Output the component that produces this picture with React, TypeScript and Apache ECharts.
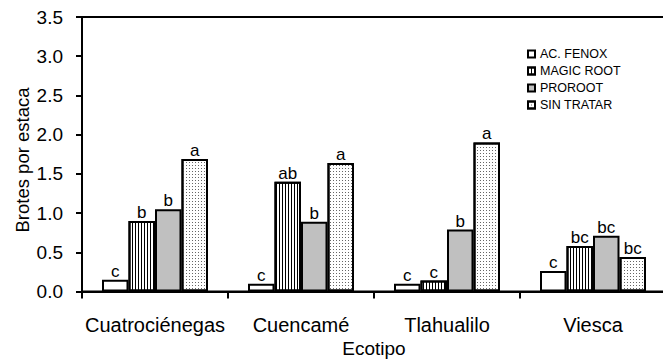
import React, { useEffect, useRef } from "react";
import * as echarts from "echarts";

const categories = ["Cuatrociénegas", "Cuencamé", "Tlahualilo", "Viesca"];
const seriesNames = ["AC. FENOX", "MAGIC ROOT", "PROROOT", "SIN TRATAR"];
const acFenox = [0.15, 0.1, 0.1, 0.26];
const magicRoot = [0.9, 1.4, 0.14, 0.58];
const proroot = [1.05, 0.89, 0.79, 0.71];
const sinTratar = [1.69, 1.64, 1.9, 0.44];
const letters = [
  ["c", "c", "c", "c"],
  ["b", "ab", "c", "bc"],
  ["b", "b", "b", "bc"],
  ["a", "a", "a", "bc"],
];
const yTicks = [0, 0.5, 1, 1.5, 2, 2.5, 3, 3.5];

const FONT = "'Liberation Sans', Arial, sans-serif";

export default function App() {
  const ref = useRef<HTMLDivElement>(null);
  useEffect(() => {
    if (!ref.current) return;
    document.body.style.margin = "0";
    const chart = echarts.init(ref.current, undefined, { renderer: "svg" });
    const values = [acFenox, magicRoot, proroot, sinTratar];
    const styles: any[] = [
      { color: "#ffffff" },
      {
        color: "#ffffff",
        decal: {
          symbol: "rect",
          symbolSize: 1,
          dashArrayX: [1, 2],
          dashArrayY: [10, 0],
          color: "#000000",
          backgroundColor: "#ffffff",
        },
      },
      { color: "#c0c0c0" },
      {
        color: "#ffffff",
        decal: {
          symbol: "rect",
          symbolSize: 1,
          dashArrayX: [1, 2],
          dashArrayY: [1, 2],
          color: "#666666",
          backgroundColor: "#ffffff",
        },
      },
    ];
    chart.setOption({
      animation: false,
      textStyle: { fontFamily: FONT },
      grid: {
        left: 82,
        right: -3,
        top: 17,
        bottom: 68.5,
        outerBoundsMode: "none",
        containLabel: false,
        show: true,
        borderColor: "#000",
        borderWidth: 2,
        backgroundColor: "transparent",
      },
      legend: {
        orient: "vertical",
        left: 527,
        top: 47,
        padding: 0,
        itemWidth: 7,
        itemHeight: 7,
        itemGap: 3,
        icon: "rect",
        data: seriesNames,
        textStyle: { fontSize: 12.5, color: "#000", fontFamily: FONT, lineHeight: 14 },
        itemStyle: { borderColor: "#000", borderWidth: 2 },
      },
      xAxis: {
        type: "category",
        data: categories,
        boundaryGap: true,
        axisLine: { lineStyle: { color: "#000", width: 2 } },
        axisTick: { show: true, length: 7, lineStyle: { color: "#000", width: 2 } },
        axisLabel: { color: "#000", fontSize: 20, margin: 23, interval: 0, fontFamily: FONT },
        name: "Ecotipo",
        nameLocation: "middle",
        nameGap: 47,
        nameTextStyle: { color: "#000", fontSize: 19, fontFamily: FONT },
      },
      yAxis: {
        type: "value",
        min: 0,
        max: 3.5,
        interval: 0.5,
        splitLine: { show: false },
        axisLine: { show: true, lineStyle: { color: "#000", width: 2 } },
        axisTick: { show: true, length: 6, lineStyle: { color: "#000", width: 2 } },
        axisLabel: {
          color: "#000",
          fontSize: 19,
          margin: 19,
          fontFamily: FONT,
          formatter: (v: number) => (yTicks.includes(v) ? v.toFixed(1) : ""),
        },
      },
      graphic: [
        {
          type: "text",
          x: 22,
          y: 160,
          rotation: Math.PI / 2,
          style: {
            text: "Brotes por estaca",
            fontSize: 18.5,
            fontFamily: FONT,
            fill: "#000",
            align: "center",
            verticalAlign: "middle",
          },
        },
      ],
      series: seriesNames.map((name, i) => ({
        name,
        type: "bar",
        data: values[i],
        barWidth: 26.5,
        barGap: "0%",
        itemStyle: { ...styles[i], borderColor: "#000", borderWidth: 2 },
        label: {
          show: true,
          position: "top",
          distance: 0,
          color: "#000",
          fontSize: 17,
          fontFamily: FONT,
          formatter: (p: any) => letters[i][p.dataIndex],
        },
      })),
    });
    return () => chart.dispose();
  }, []);
  return <div ref={ref} style={{ width: 663, height: 360 }} />;
}
